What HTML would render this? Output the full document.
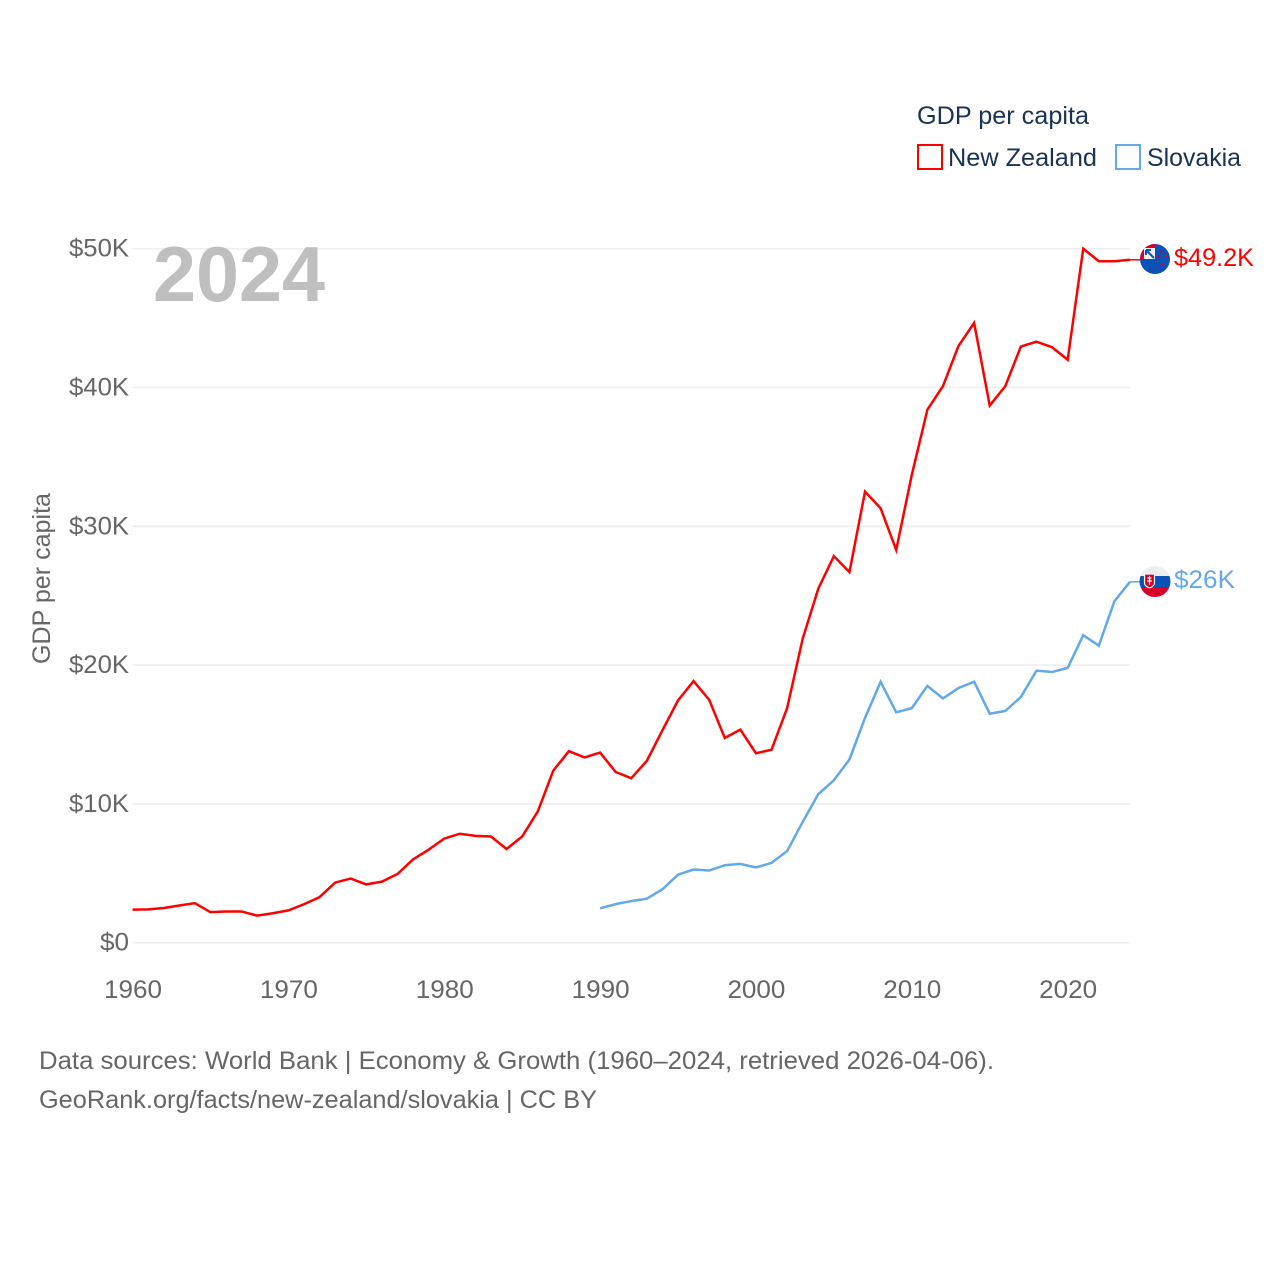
<!DOCTYPE html>
<html lang="en">
<head>
<meta charset="utf-8">
<title>GDP per capita: New Zealand and Slovakia</title>
<style>
html,body{margin:0;padding:0;background:#fff;}
svg{display:block;font-family:"Liberation Sans",sans-serif;}
</style>
</head>
<body>
<svg id="chart" xmlns="http://www.w3.org/2000/svg" width="1280" height="1280" viewBox="0 0 1280 1280">
  <defs>
    <clipPath id="clip-nz"><circle cx="1155" cy="259" r="15"/></clipPath>
    <clipPath id="clip-sk"><circle cx="1155" cy="581.5" r="15.5"/></clipPath>
  </defs>
  <rect width="1280" height="1280" fill="#fff"/>
  <g id="grid"></g>
  <g id="yticks"></g>
  <g id="xticks"></g>
  <text x="153" y="301" font-size="78" font-weight="700" fill="#bfbfbf" textLength="172" lengthAdjust="spacingAndGlyphs">2024</text>
  <text transform="translate(50,664) rotate(-90)" font-size="25" fill="#666" textLength="171" lengthAdjust="spacingAndGlyphs">GDP per capita</text>
  <g id="series"></g>

  <g clip-path="url(#clip-nz)">
    <rect x="1139" y="243" width="32" height="32" fill="#0a52b5"/>
    <rect x="1139" y="243" width="16" height="16" fill="#f0f0f0"/>
    <rect x="1140" y="243" width="15" height="5" fill="#d80027"/>
    <rect x="1140" y="248" width="4" height="11" fill="#d80027"/>
    <path d="M1146 250 L1154 258 M1146 250 L1151 250 M1146 250 L1146 255" stroke="#0a52b5" stroke-width="2" fill="none"/>
    <circle cx="1158" cy="257" r="1.2" fill="#d80027"/>
    <circle cx="1162" cy="252" r="1.2" fill="#d80027"/>
    <circle cx="1166" cy="256" r="1.2" fill="#d80027"/>
    <circle cx="1162" cy="265" r="1.3" fill="#d80027"/>
  </g>
  <text x="1174" y="266" font-size="25" fill="#ff0000" textLength="80" lengthAdjust="spacingAndGlyphs">$49.2K</text>

  <g clip-path="url(#clip-sk)">
    <rect x="1139" y="565" width="32" height="11" fill="#eeeeee"/>
    <rect x="1139" y="576" width="32" height="11" fill="#0a52b5"/>
    <rect x="1139" y="587" width="32" height="11" fill="#d80027"/>
    <path d="M1144.500 574 H1154.500 V583 Q1154.500 586 1149.500 588 Q1144.500 586 1144.500 583 Z" fill="#d80027" stroke="#fff" stroke-width="1.200"/>
    <path d="M1149.500 576 V585 M1147.500 578 H1151.500 M1147 581 H1152" stroke="#fff" stroke-width="1.200" fill="none"/>
  </g>
  <text x="1174" y="588" font-size="25" fill="#62a8ea" textLength="61" lengthAdjust="spacingAndGlyphs">$26K</text>

  <g>
    <text x="917" y="124" font-size="25" fill="#1a3353" textLength="172" lengthAdjust="spacingAndGlyphs">GDP per capita</text>
    <rect x="918" y="145" width="24" height="24" fill="#fff" stroke="#ff0000" stroke-width="2"/>
    <text x="948" y="166" font-size="25" fill="#1a3353" textLength="149" lengthAdjust="spacingAndGlyphs">New Zealand</text>
    <rect x="1116" y="145" width="24" height="24" fill="#fff" stroke="#62a8ea" stroke-width="2"/>
    <text x="1147" y="166" font-size="25" fill="#1a3353" textLength="94" lengthAdjust="spacingAndGlyphs">Slovakia</text>
  </g>

  <text x="39" y="1069" font-size="25" fill="#666" textLength="955" lengthAdjust="spacingAndGlyphs">Data sources: World Bank | Economy &amp; Growth (1960–2024, retrieved 2026-04-06).</text>
  <text x="39" y="1108" font-size="25" fill="#666" textLength="558" lengthAdjust="spacingAndGlyphs">GeoRank.org/facts/new-zealand/slovakia | CC BY</text>
</svg>

<script>
const xTickYears = [1960, 1970, 1980, 1990, 2000, 2010, 2020];
const yTickValues = [0, 10, 20, 30, 40, 50];
const yTickLabels = ['$0', '$10K', '$20K', '$30K', '$40K', '$50K'];
const nzStartYear = 1960;
const nzValues = [2.38,2.4,2.5,2.68,2.85,2.2,2.25,2.25,1.95,2.12,2.33,2.77,3.28,4.33,4.62,4.2,4.4,4.95,6.0,6.7,7.5,7.85,7.7,7.65,6.75,7.65,9.45,12.4,13.8,13.35,13.7,12.3,11.85,13.1,15.3,17.45,18.85,17.5,14.75,15.35,13.65,13.9,16.9,21.9,25.5,27.85,26.7,32.5,31.3,28.3,33.7,38.4,40.1,43.0,44.65,38.7,40.1,42.95,43.3,42.9,42.0,50.0,49.1,49.1,49.2];
const skStartYear = 1990;
const skValues = [2.48,2.78,3.0,3.17,3.85,4.9,5.27,5.2,5.58,5.68,5.42,5.75,6.6,8.7,10.7,11.7,13.2,16.2,18.8,16.6,16.9,18.5,17.6,18.35,18.8,16.5,16.7,17.7,19.6,19.5,19.8,22.15,21.4,24.6,26.0];

const NS = 'http://www.w3.org/2000/svg';
function xScale(year) { return 132.5 + (year - 1960) * (1130 - 132.5) / 64; }
function yScale(v) { return 942.7 - v * 13.88; }

const gridGroup = document.getElementById('grid');
const yGroup = document.getElementById('yticks');
const xGroup = document.getElementById('xticks');
const seriesGroup = document.getElementById('series');

yTickValues.forEach(function (v, i) {
  const line = document.createElementNS(NS, 'line');
  
  
  line.setAttribute('x1', xScale(1960));
  line.setAttribute('x2', xScale(2024));
  line.setAttribute('y1', yScale(v));
  line.setAttribute('y2', yScale(v));
  line.setAttribute('stroke', '#eeeeee');
  line.setAttribute('stroke-width', '1.6');
  gridGroup.appendChild(line);

  const label = document.createElementNS(NS, 'text');
  
  
  label.setAttribute('x', 129);
  label.setAttribute('y', yScale(v) + 8);
  label.setAttribute('text-anchor', 'end');
  label.setAttribute('font-size', '25');
  label.setAttribute('fill', '#666');
  label.setAttribute('textLength', yTickLabels[i].length === 2 ? '29' : '60');
  label.setAttribute('lengthAdjust', 'spacingAndGlyphs');
  label.textContent = yTickLabels[i];
  yGroup.appendChild(label);
});

xTickYears.forEach(function (year) {
  const label = document.createElementNS(NS, 'text');
  
  
  label.setAttribute('x', xScale(year) + 0.5);
  label.setAttribute('y', 998);
  label.setAttribute('text-anchor', 'middle');
  label.setAttribute('font-size', '25');
  label.setAttribute('fill', '#666');
  label.setAttribute('textLength', '58');
  label.setAttribute('lengthAdjust', 'spacingAndGlyphs');
  label.textContent = String(year);
  xGroup.appendChild(label);
});

function seriesPoints(startYear, values) {
  return values.map(function (v, i) {
    return xScale(startYear + i).toFixed(2) + ',' + yScale(v).toFixed(2);
  });
}

function drawSeries(name, startYear, values, color) {
  const path = document.createElementNS(NS, 'polyline');
  
  
  path.setAttribute('points', seriesPoints(startYear, values).join(' '));
  path.setAttribute('fill', 'none');
  path.setAttribute('stroke', color);
  path.setAttribute('stroke-width', '2.5');
  path.setAttribute('stroke-linejoin', 'miter');
  seriesGroup.appendChild(path);

  const last = values[values.length - 1];
  const connector = document.createElementNS(NS, 'line');
  
  
  connector.setAttribute('x1', xScale(2024));
  connector.setAttribute('x2', 1140);
  connector.setAttribute('y1', yScale(last));
  connector.setAttribute('y2', yScale(last));
  connector.setAttribute('stroke', color);
  connector.setAttribute('stroke-width', '1.5');
  seriesGroup.appendChild(connector);
}

drawSeries('new-zealand', nzStartYear, nzValues, '#ff0000');
drawSeries('slovakia', skStartYear, skValues, '#62a8ea');
</script>
</body>
</html>
